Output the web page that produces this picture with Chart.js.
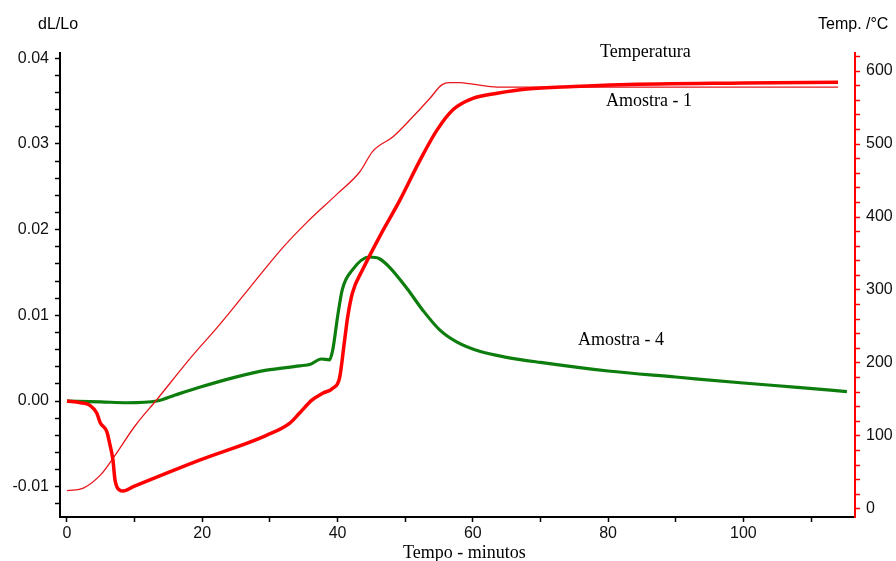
<!DOCTYPE html>
<html>
<head>
<meta charset="utf-8">
<script src="https://cdn.jsdelivr.net/npm/chart.js@4/dist/chart.umd.min.js"></script>
<style>
  html, body { margin: 0; padding: 0; background: #fff; }
  #wrap { width: 896px; height: 561px; }
</style>
</head>
<body>
<div id="wrap"><canvas id="chart" width="896" height="561"></canvas></div>
<script>
// Temperatura (thin red, right axis, °C)
const tempTime   = [0, 2.5, 5, 7, 10, 13.3, 18, 22.6, 27, 32, 35.5, 40, 43.3, 45.2, 48.2, 51.1, 53.7, 55.4, 56.6, 58, 60, 63.6, 68, 80, 100, 114];
const tempValues = [25, 29, 47, 72, 113, 150, 204, 253, 303, 359, 393, 432, 462, 490, 510, 537, 563, 581, 584, 584, 582, 578, 578, 578, 578, 578];

// Amostra - 1 (thick red, left axis, dL/Lo)
const a1Time   = [0, 2, 3.4, 4.4, 4.9, 5.9, 6.3, 6.8, 7.1, 7.8, 8.3, 9.8, 19.6, 29.5, 32.9, 34.4, 36.2, 37.8, 39.3, 40.3, 41, 41.5, 42.2, 43.7, 46.3, 49.2, 52.2, 54.7, 57.1, 60, 63.6, 68, 75, 81.7, 100, 114];
const a1Values = [0, -0.0002, -0.0005, -0.0014, -0.0025, -0.0036, -0.0049, -0.0069, -0.0092, -0.0104, -0.0105, -0.0100, -0.0069, -0.0040, -0.0026, -0.0014, 0.0001, 0.0009, 0.0015, 0.0027, 0.0068, 0.0098, 0.0126, 0.0153, 0.0193, 0.0234, 0.0281, 0.0316, 0.0340, 0.0353, 0.0359, 0.0364, 0.0367, 0.0369, 0.0371, 0.0372];

// Amostra - 4 (green, left axis, dL/Lo)
const a4Time   = [0, 5, 8.9, 13.3, 16, 19.6, 24.5, 29.5, 34.4, 36, 37.6, 38.8, 39.3, 40, 40.7, 42.2, 44.7, 46.2, 47.7, 50.3, 52.6, 55.1, 57.6, 61, 65, 70, 80, 90, 100, 108, 115.3];
const a4Values = [0, -0.0001, -0.0002, 0, 0.0007, 0.0016, 0.0027, 0.0036, 0.0041, 0.0043, 0.0049, 0.0048, 0.0060, 0.0098, 0.0130, 0.0153, 0.0168, 0.0166, 0.0156, 0.0131, 0.0106, 0.0083, 0.0069, 0.0058, 0.0051, 0.0045, 0.0035, 0.0028, 0.0021, 0.0016, 0.0011];

// ticks
const xTicks      = [0, 10, 20, 30, 40, 50, 60, 70, 80, 90, 100, 110];
const xLabels     = [0, 20, 40, 60, 80, 100];
const leftTicks   = [-0.012, -0.01, -0.008, -0.006, -0.004, -0.002, 0, 0.002, 0.004, 0.006, 0.008, 0.01, 0.012, 0.014, 0.016, 0.018, 0.02, 0.022, 0.024, 0.026, 0.028, 0.03, 0.032, 0.034, 0.036, 0.038, 0.04];
const leftLabels  = [-0.01, 0, 0.01, 0.02, 0.03, 0.04];
const rightTicks  = [0, 20, 40, 60, 80, 100, 120, 140, 160, 180, 200, 220, 240, 260, 280, 300, 320, 340, 360, 380, 400, 420, 440, 460, 480, 500, 520, 540, 560, 580, 600, 620];
const rightLabels = [0, 100, 200, 300, 400, 500, 600];

function pts(xs, ys) {
  return xs.map((x, i) => ({ x: x, y: ys[i] }));
}
function hasLabel(list, v) {
  return list.some(l => Math.abs(l - v) < 1e-9);
}

const tickFont = { family: '"Liberation Sans", Arial, sans-serif', size: 16 };

// free text on the chart (series names, axis titles)
const textPlugin = {
  id: 'texts',
  afterDraw(chart) {
    const ctx = chart.ctx;
    ctx.save();
    ctx.fillStyle = '#000';
    ctx.textBaseline = 'middle';
    ctx.textAlign = 'left';
    ctx.font = '16px "Liberation Sans", Arial, sans-serif';
    ctx.fillText('dL/Lo', 38, 25);
    ctx.fillText('Temp. /\u00B0C', 818, 25);
    ctx.font = '18px "Liberation Serif", "Times New Roman", serif';
    ctx.fillText('Temperatura', 600, 52);
    ctx.fillText('Amostra - 1', 606, 101);
    ctx.fillText('Amostra - 4', 578, 340);
    ctx.fillText('Tempo - minutos', 403, 553);
    ctx.restore();
  }
};

new Chart(document.getElementById('chart').getContext('2d'), {
  type: 'line',
  data: {
    datasets: [
      {
        label: 'Amostra - 1',
        data: pts(a1Time, a1Values),
        yAxisID: 'y',
        borderColor: '#ff0000',
        borderWidth: 3.5,
        pointRadius: 0,
        cubicInterpolationMode: 'monotone'
      },
      {
        label: 'Temperatura',
        data: pts(tempTime, tempValues),
        yAxisID: 'y2',
        borderColor: '#e8151b',
        borderWidth: 1.3,
        pointRadius: 0,
        cubicInterpolationMode: 'monotone'
      },
      {
        label: 'Amostra - 4',
        data: pts(a4Time, a4Values),
        yAxisID: 'y',
        borderColor: '#0d7d0d',
        borderWidth: 3.2,
        pointRadius: 0,
        cubicInterpolationMode: 'monotone'
      }
    ]
  },
  options: {
    responsive: false,
    animation: false,
    devicePixelRatio: 1,
    layout: { padding: { top: 53, left: 0, right: 0, bottom: 0 } },
    plugins: { legend: { display: false }, tooltip: { enabled: false } },
    scales: {
      x: {
        type: 'linear',
        min: -1.03,
        max: 116.5,
        afterFit(s) { s.height = 44; },
        afterBuildTicks(s) { s.ticks = xTicks.map(v => ({ value: v })); },
        border: { color: '#000', width: 2 },
        grid: { drawOnChartArea: false, tickLength: 5, tickColor: '#000', tickWidth: 1.5 },
        ticks: {
          font: tickFont, color: '#111', padding: 2, maxRotation: 0, autoSkip: false,
          callback: v => hasLabel(xLabels, v) ? String(v) : ''
        }
      },
      y: {
        type: 'linear',
        position: 'left',
        min: -0.01353,
        max: 0.0406,
        afterFit(s) { s.width = 60; },
        afterBuildTicks(s) { s.ticks = leftTicks.map(v => ({ value: v })); },
        border: { color: '#000', width: 2 },
        grid: { drawOnChartArea: false, tickLength: 5, tickColor: '#000', tickWidth: 1.5 },
        ticks: {
          font: tickFont, color: '#111', padding: 6, autoSkip: false,
          callback: v => hasLabel(leftLabels, v) ? v.toFixed(2) : ''
        }
      },
      y2: {
        type: 'linear',
        position: 'right',
        min: -11,
        max: 624.7,
        afterFit(s) { s.width = 41; },
        afterBuildTicks(s) { s.ticks = rightTicks.map(v => ({ value: v })); },
        border: { color: '#ff0000', width: 2 },
        grid: { drawOnChartArea: false, tickLength: 5, tickColor: '#ff0000', tickWidth: 1.5 },
        ticks: {
          font: tickFont, color: '#111', padding: 6, autoSkip: false,
          callback: v => hasLabel(rightLabels, v) ? String(v) : ''
        }
      }
    }
  },
  plugins: [textPlugin]
});
</script>
</body>
</html>
